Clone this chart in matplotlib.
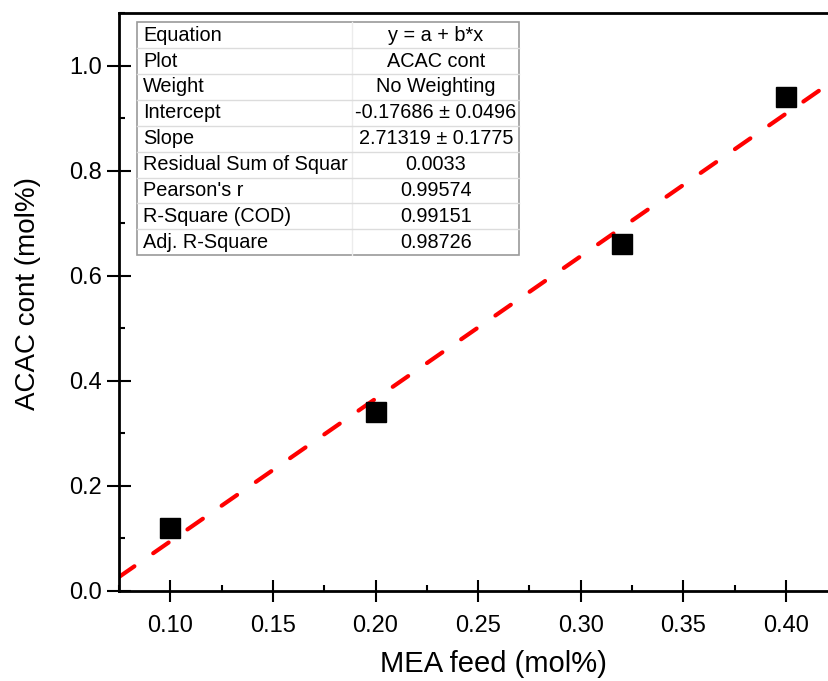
import numpy as np
import matplotlib
matplotlib.use('Agg')
import matplotlib.pyplot as plt
from matplotlib.ticker import MultipleLocator
from matplotlib.patches import Rectangle

plt.rcParams['font.family'] = ['Liberation Sans', 'DejaVu Sans']

# measured points
mea_feed = [0.10, 0.20, 0.32, 0.40]
acac_cont = [0.12, 0.34, 0.66, 0.94]

# linear fit reported by the table
intercept = -0.17686
slope = 2.71319

table_keys = ['Equation', 'Plot', 'Weight', 'Intercept', 'Slope',
              'Residual Sum of Squar', "Pearson's r", 'R-Square (COD)',
              'Adj. R-Square']
table_vals = ['y = a + b*x', 'ACAC cont', 'No Weighting',
              '-0.17686 ± 0.0496', '2.71319 ± 0.1775', '0.0033',
              '0.99574', '0.99151', '0.98726']

fig = plt.figure(figsize=(8.29, 6.81), dpi=100)
# the right part of the frame runs past the picture edge, as in the original
ax = fig.add_axes([119 / 829, 0.1322, 748 / 829, 0.8487])

xlim = (0.075, 0.4395)
ax.set_xlim(*xlim)
ax.set_ylim(0, 1.1)

xs = np.array(xlim)
ax.plot(xs, intercept + slope * xs, color='#ff0000', lw=3,
        dashes=(4.5, 5.5), dash_capstyle='round', zorder=2)
ax.plot(mea_feed, acac_cont, 's', color='black', ms=14, zorder=3)

ax.xaxis.set_major_locator(MultipleLocator(0.05))
ax.xaxis.set_minor_locator(MultipleLocator(0.025))
ax.yaxis.set_major_locator(MultipleLocator(0.2))
ax.yaxis.set_minor_locator(MultipleLocator(0.1))
ax.xaxis.set_major_formatter(plt.FormatStrFormatter('%.2f'))
ax.yaxis.set_major_formatter(plt.FormatStrFormatter('%.1f'))

ax.tick_params(which='major', direction='inout', width=1.5, labelsize=17)
ax.tick_params(axis='x', which='major', length=16, pad=9)
ax.tick_params(axis='y', which='major', length=17, pad=4)
ax.tick_params(which='minor', direction='in', length=4, width=1.5)

for s in ['left', 'bottom', 'top']:
    ax.spines[s].set_linewidth(2)
ax.spines['right'].set_visible(False)

ax.set_xlabel('MEA feed (mol%)', fontsize=21, va='top')
ax.set_ylabel('ACAC cont (mol%)', fontsize=20)
ax.xaxis.set_label_coords(0.5, -0.1025)
ax.yaxis.set_label_coords(-0.104, 0.514)

# fit results table (axes coordinates)
t_left, t_right, t_mid = 0.0241, 0.535, 0.3115
t_top, t_bot = 0.984, 0.581
n = len(table_keys)
rh = (t_top - t_bot) / n
ax.add_patch(Rectangle((t_left, t_bot), t_right - t_left, t_top - t_bot,
                       transform=ax.transAxes, facecolor='white',
                       edgecolor='#9a9a9a', lw=1.2, zorder=4))
ax.plot([t_mid, t_mid], [t_bot, t_top], transform=ax.transAxes,
        color='#ececec', lw=1, zorder=5)
for i in range(1, n):
    y = t_top - i * rh
    ax.plot([t_left, t_right], [y, y], transform=ax.transAxes,
            color='#dcdcdc', lw=1, zorder=5)
for i, (k, v) in enumerate(zip(table_keys, table_vals)):
    yc = t_top - (i + 0.5) * rh
    ax.text(0.0321, yc, k, transform=ax.transAxes, fontsize=14.3,
            va='center', ha='left', zorder=6)
    ax.text(0.4238, yc, v, transform=ax.transAxes,
            fontsize=14.3, va='center', ha='center', zorder=6)

fig.savefig('out.png', dpi=100)
